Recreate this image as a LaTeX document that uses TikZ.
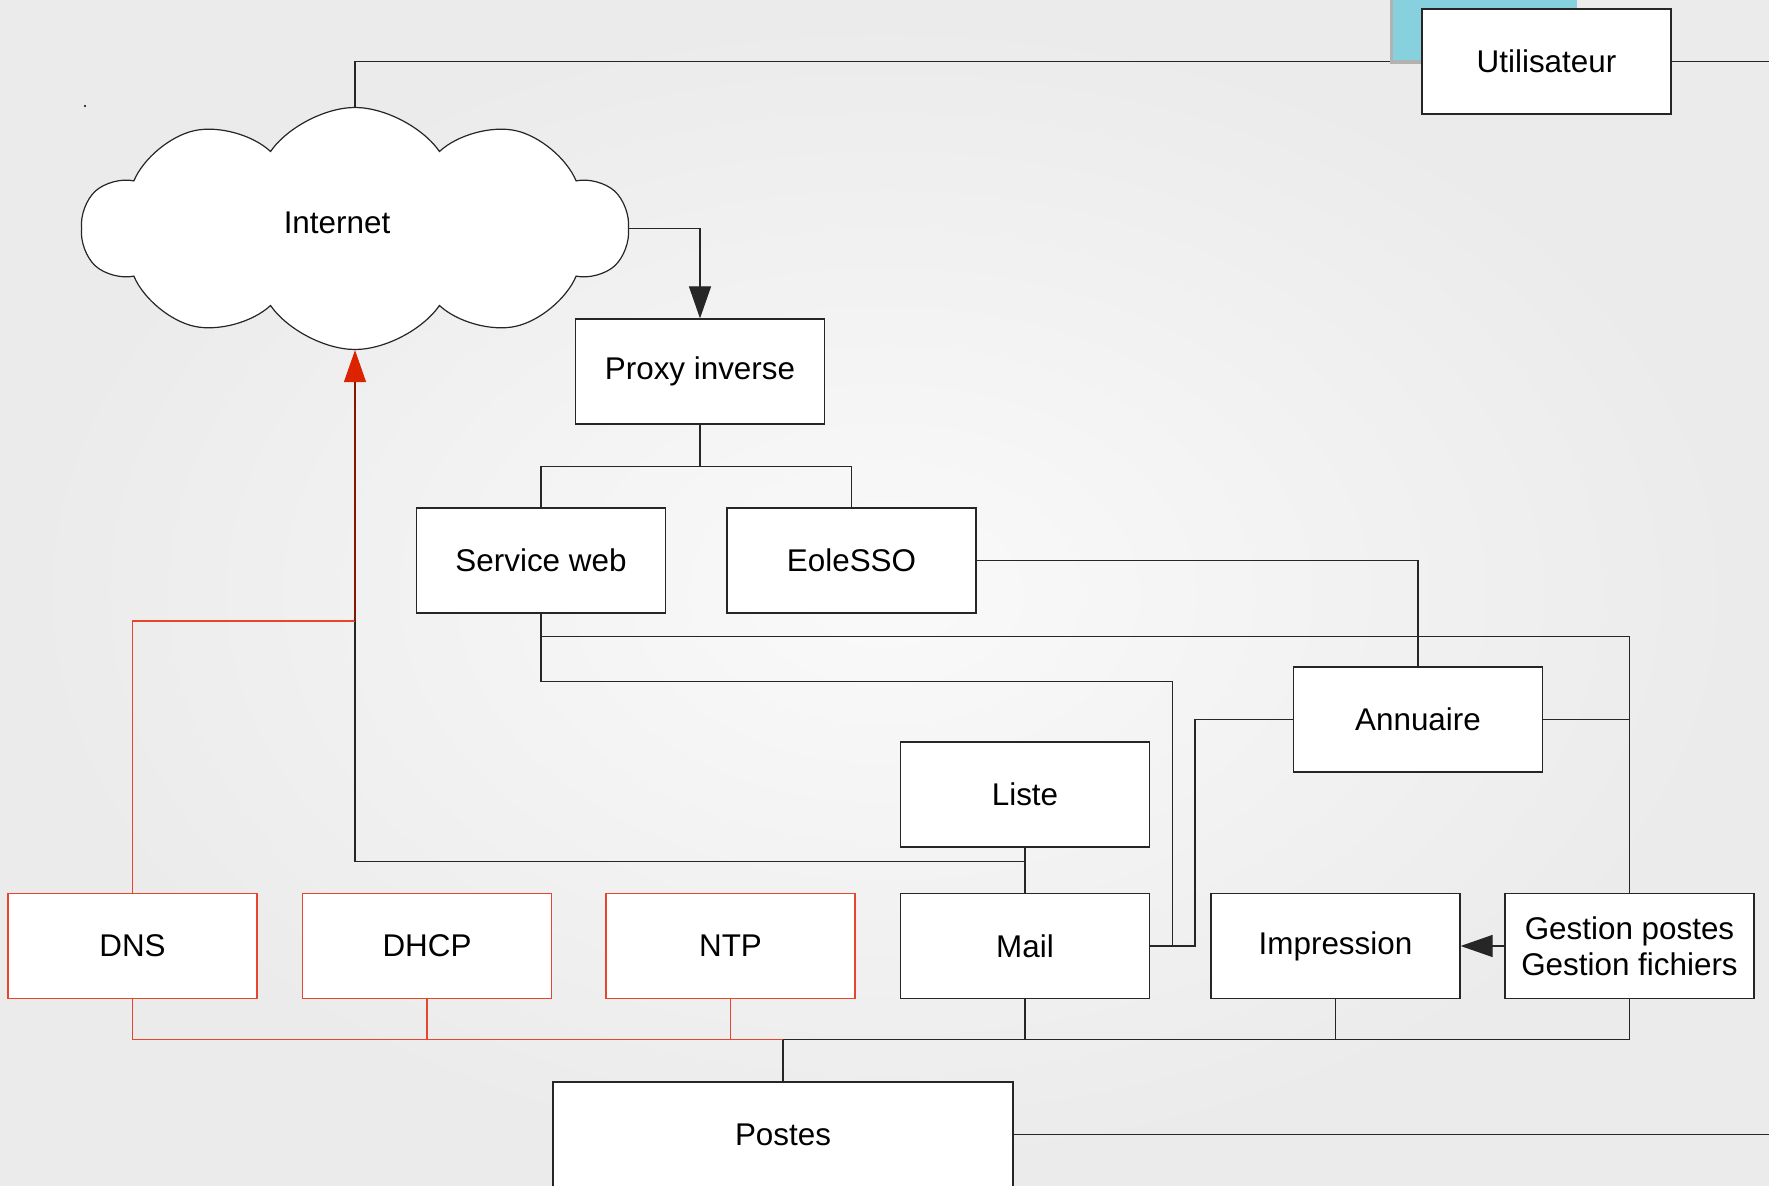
\documentclass[tikz,border=0pt]{standalone}
\usepackage{fontspec}
\setmainfont{Liberation Sans}
\usepackage{xcolor}
\usepackage{tikz}
\usetikzlibrary{calc, positioning, arrows.meta, shapes.symbols}
\definecolor{boxred}{RGB}{230,70,45}
\definecolor{arrowred}{RGB}{220,35,0}
\definecolor{usercyan}{RGB}{135,208,222}
\pgfdeclarelayer{back}
\pgfdeclarelayer{wires}
\pgfsetlayers{back,wires,main}
\tikzset{
    box/.style={rectangle, draw=black!85, fill=white, line width=0.6pt, inner sep=0pt,
        minimum width=124.5pt, minimum height=52.5pt, align=center,
        font=\fontsize{15.7}{18}\selectfont},
    redbox/.style={box, draw=boxred},
    net/.style={cloud, cloud puffs=10, cloud puff arc=110, aspect=2.25, shape border rotate=18,
        draw=black!85, fill=white, line width=0.6pt, inner sep=0pt,
        minimum width=273pt, minimum height=121pt},
    wire/.style={draw=black!85, line width=0.6pt},
    redwire/.style={draw=boxred, line width=0.6pt},
    arrow/.style={-{Triangle[length=16pt, width=11pt]}},
    redarrow/.style={-{Triangle[length=16pt, width=11pt, color=arrowred]}}
}

\begin{document}
\begin{tikzpicture}[x=0.5pt, y=-0.5pt]
    % Background
    \begin{pgfonlayer}{back}
        \shade[inner color=black!2, outer color=black!8] (0,0) rectangle (1769,1186);
    \end{pgfonlayer}
    \useasboundingbox (0,0) rectangle (1769,1186);

    % Utilisateur tab
    \fill[black!30] (1390,0) rectangle (1575,64);
    \fill[usercyan] (1393,0) rectangle (1577,60);

    % Nodes
    \node[box] (util) at (1546.5,61.5) {Utilisateur};
    \node[net] (internet) at (355,228.5) {};
    \node[font=\fontsize{15.7}{18}\selectfont] (nettext) at (337,223) {Internet};
    \node[box] (proxy) at (700,371.5) {Proxy inverse};
    \node[box] (sweb) at (541,560.5) {Service web};
    \node[box] (sso) at (851.5,560.5) {EoleSSO};
    \node[box] (annu) at (1418,719.5) {Annuaire};
    \node[box] (liste) at (1025,794.5) {Liste};

    \node[redbox] (dns) at (132.5,946) {DNS};
    \node[redbox] (dhcp) at (427,946) {DHCP};
    \node[redbox] (ntp) at (730.5,946) {NTP};
    \node[box] (mail) at (1025,946) {Mail};
    \node[box] (impr) at (1335.5,946) {Impression};
    \node[box] (gest) at (1629.5,946) {Gestion postes\\Gestion fichiers};
    \node[box, minimum width=230pt] (postes) at (783,1134.5) {Postes};

    \coordinate (redjoin) at (355,621);
    \coordinate (edgetop) at (1769,61.5);
    \coordinate (edgebot) at (1769,1134.5);
    \fill (85,106) circle (0.6pt);

    % Connectors
    \begin{pgfonlayer}{wires}
        \draw[wire] (internet.north) -- (355,61.5) -- (util.west);
        \draw[wire] (util.east) -- (edgetop);
        \draw[wire, arrow] (internet.east) -| (proxy.north);
        \draw[wire] (proxy.south) -- ++(0,42) -| (sweb.north);
        \draw[wire] (proxy.south) -- ++(0,42) -| (sso.north);
        \draw[wire] (sso.east) -| (annu.north);
        \draw[wire] (sweb.south) -- ++(0,23) -| (gest.north);
        \draw[wire] (sweb.south) -- ++(0,68) -| ($(mail.east)+(22,0)$) -- (mail.east);
        \draw[wire] (annu.west) -- ++(-98,0) |- (mail.east);
        \draw[wire] (annu.east) -- (annu.east -| gest.north);
        \draw[wire] (liste.south) -- (mail.north);
        \draw[wire] (mail.north) -- ++(0,-31) -| (redjoin);
        \draw[redwire] (dns.north) |- (redjoin);
        \draw[line width=0.6pt, draw=arrowred!60!black, redarrow] (redjoin) -- (internet.south);
        \draw[wire, arrow] (gest.west) -- (impr.east);
        % bus
        \draw[wire] (postes.north) -- ++(0,-42) -| (mail.south);
        \draw[wire] (postes.north) -- ++(0,-42) -| (impr.south);
        \draw[wire] (postes.north) -- ++(0,-42) -| (gest.south);
        \draw[redwire] (postes.north) ++(0,-42) -| (dns.south);
        \draw[redwire] (postes.north) ++(0,-42) -| (dhcp.south);
        \draw[redwire, line width=0.4pt] (postes.north) ++(0,-42) -| (ntp.south);
        \draw[wire] (postes.east) -- (edgebot);
    \end{pgfonlayer}
\end{tikzpicture}
\end{document}
